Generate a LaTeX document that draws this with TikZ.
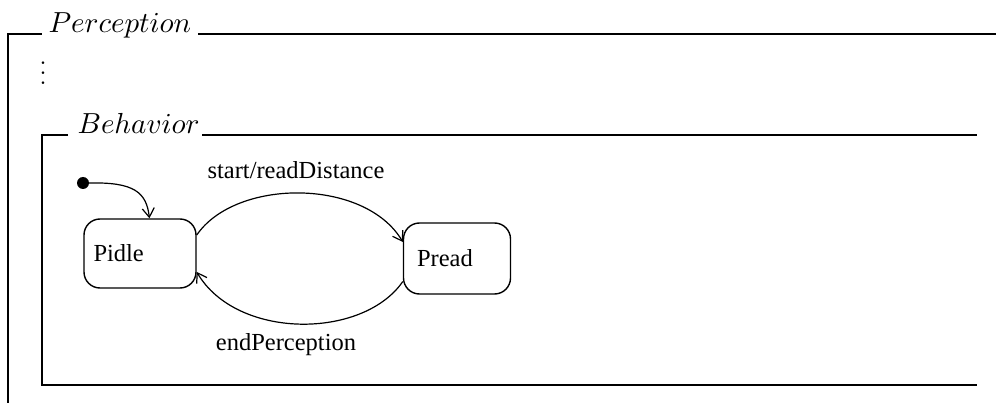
\documentclass[tikz,border=0pt]{standalone}
\usepackage{fontspec}
\newfontfamily\tms{Liberation Serif}
\usetikzlibrary{arrows.meta}
\tikzset{
  frame/.style={line width=1.1pt},
  title/.style={inner sep=0pt, scale=2.9, anchor=base west},
  state/.style={draw, line width=1.4pt, rounded corners=16pt, font=\tms\fontsize{24.5}{28}\selectfont,
    align=left, inner ysep=0pt, inner xsep=0pt},
  lbl/.style={font=\tms\fontsize{24.5}{28}\selectfont, inner sep=0pt},
  trans/.style={line width=1.2pt, -{Straight Barb[length=9pt,width=12pt]}},
}
\begin{document}
\begin{tikzpicture}[x=1pt,y=-1pt]
\useasboundingbox (0,0) rectangle (996,403);
% outer frame
\node[title] (ptitle) at (48,33) {$Perception$};
\coordinate (pa) at (8,403);
\coordinate (pb) at (8,34);
\coordinate (pc) at (42,34);
\coordinate (pd) at (198,34);
\coordinate (pe) at (996,34);
\draw[frame] (pa) -- (pb) -- (pc);
\draw[frame] (pd) -- (pe);
\node[inner sep=0pt, scale=2.5, anchor=south] (dots) at (43,85.5) {$\vdots$};
% inner frame
\node[title] (btitle) at (77,134) {$Behavior$};
\coordinate (ba) at (42,135);
\coordinate (bb) at (68,135);
\coordinate (bc) at (202,135);
\coordinate (bd) at (977,135);
\coordinate (be) at (42,385);
\coordinate (bf) at (977,385);
\draw[frame] (bb) -- (ba) -- (be) -- (bf);
\draw[frame] (bc) -- (bd);
% states
\node[state, minimum width=112pt, minimum height=69pt, text width=101pt] (pidle) at (140,253.5) {\hspace*{4pt}Pidle};
\node[state, minimum width=107pt, minimum height=71pt, text width=96pt] (pread) at (457,258.5) {\hspace*{8pt}Pread};
\node[circle, fill, inner sep=0pt, minimum size=12pt] (init) at (83,183) {};
% transitions
\draw[trans] (init.east) .. controls +(45,-1) and +(-3,-26) .. (pidle.75);
\draw[trans] (pidle.18) .. controls +(39,-57) and +(-38,-64) .. (pread.163);
\draw[trans] (pread.203) .. controls +(-40,58) and +(40,68) .. (pidle.342);
\node[lbl] (l1) at (296,170) {start/readDistance};
\node[lbl] (l2) at (286,345) {endPerception};
\end{tikzpicture}
\end{document}
